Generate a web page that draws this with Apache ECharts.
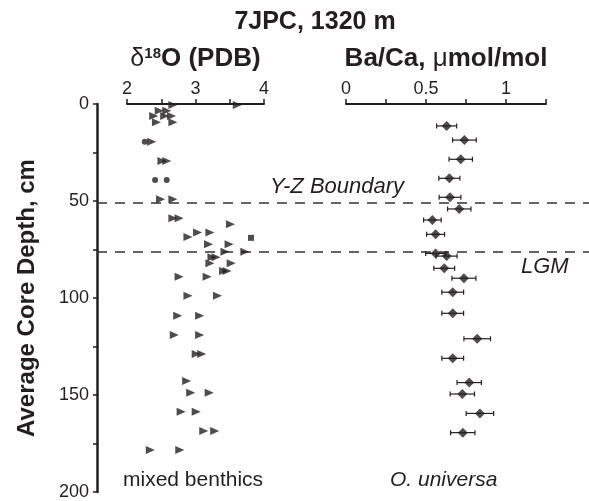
<!DOCTYPE html>
<html><head><meta charset="utf-8">
<script src="https://cdn.jsdelivr.net/npm/echarts@6/dist/echarts.min.js"></script>
<style>html,body{margin:0;padding:0;background:#fff}#c{width:589px;height:501px}</style>
</head><body><div id="c"></div>
<script>
// δ18O (PDB), mixed benthics: [value, depth cm]
const d18oTriangles = [
  [2.67,0.5],[3.61,0.5],
  [2.47,3.5],[2.58,3.5],
  [2.39,6.2],[2.55,6.2],[2.65,6.2],
  [2.43,9.4],[2.67,9.4],
  [2.36,19.4],
  [2.51,29.4],[2.58,29.4],
  [2.49,49.1],[2.67,49.1],
  [2.67,58.9],[2.76,58.9],
  [3.51,62],
  [3.03,66.3],[3.21,66.3],
  [2.89,68.6],
  [3.19,72.3],[3.49,72.3],
  [3.43,76.1],[3.72,76.1],
  [3.24,79],[3.30,79],
  [3.21,82.1],[3.52,82.1],
  [3.41,86.1],[3.46,86.1],
  [2.76,89],[3.17,89],
  [2.89,98.8],[3.32,98.8],
  [2.74,109.1],[3.06,109.1],
  [2.69,119.1],[3.06,119.1],
  [3.01,128.9],[3.09,128.9],
  [2.87,142.8],
  [2.93,148.8],[3.20,148.8],
  [2.79,158.6],[3.01,158.6],
  [3.12,168.6],[3.28,168.6],
  [2.34,178.4],[2.77,178.4]
];
const d18oDots = [[2.26,19.4],[2.41,39.2],[2.58,39.2]];
const d18oSquares = [[3.81,69]];

// Ba/Ca (µmol/mol), O. universa: value, error, depth
const baCaValue = [0.629,0.74,0.717,0.646,0.65,0.708,0.54,0.56,0.56,0.629,0.614,0.737,0.667,0.667,0.82,0.667,0.77,0.727,0.837,0.73];
const baCaError = [0.0625,0.074,0.073,0.066,0.068,0.073,0.055,0.056,0.062,0.065,0.065,0.075,0.068,0.068,0.083,0.068,0.076,0.076,0.086,0.076];
const baCaDepth = [11.3,18.6,28.5,38.3,48.1,54.1,59.8,67.2,77,78.4,84.7,89.8,97,107.9,121,131.1,143.6,149.5,159.5,169.4];

// Boundaries (depth, cm)
const boundaryDepths = [51, 76.3];
const boundaryNames = ['Y-Z Boundary', 'LGM'];

const d18oTicks = [2, 3, 4];
const baCaTicks = [0, 0.5, 1];
const depthTicks = [0, 50, 100, 150, 200];

const FONT = '"Liberation Sans", Arial, sans-serif';
const chart = echarts.init(document.getElementById('c'), null, {renderer: 'canvas'});

const TOP = 104, H = 388;
const baCaPts = baCaValue.map((v, i) => [v, baCaDepth[i]]);
const baCaBars = baCaValue.map((v, i) => [v - baCaError[i], v + baCaError[i], baCaDepth[i]]);

function hiddenY(gi) {
  return {type:'value', gridIndex:gi, min:0, max:200, inverse:true, show:false};
}

chart.setOption({
  animation: false,
  backgroundColor: '#fff',
  textStyle: {fontFamily: FONT},
  title: [{
    text: '7JPC, 1320 m', left: 310, top: 5, textAlign: 'center',
    textStyle: {fontFamily: FONT, fontSize: 25, fontWeight: 'bold', color: '#231f20'}
  }],
  grid: [
    {left: 127, width: 137, top: TOP, height: H},
    {left: 346, width: 200, top: TOP, height: H},
    {left: 97, right: 0, top: TOP, height: H}
  ],
  xAxis: [
    {type:'value', gridIndex:0, position:'top', min:2, max:4, interval:0.5,
     name:'{d|δ}{s|18}{b|O (PDB)}', nameLocation:'middle', nameGap:32,
     nameTextStyle:{rich:{
       d:{fontFamily:FONT, fontSize:25, color:'#231f20'},
       s:{fontFamily:FONT, fontSize:15, fontWeight:'bold', color:'#231f20', verticalAlign:'top', padding:[0,0,10,0]},
       b:{fontFamily:FONT, fontSize:26, fontWeight:'bold', color:'#231f20'}}},
     axisLine:{lineStyle:{color:'#231f20', width:2}},
     axisTick:{length:5, lineStyle:{color:'#231f20', width:1.5}},
     splitLine:{show:false},
     axisLabel:{fontFamily:FONT, fontSize:18, color:'#231f20', margin:6,
       formatter: v => d18oTicks.includes(v) ? String(v) : ''}},
    {type:'value', gridIndex:1, position:'top', min:0, max:1.25, interval:0.25,
     name:'{b|Ba/Ca, }{m|μ}{b|mol/mol}', nameLocation:'middle', nameGap:32,
     nameTextStyle:{rich:{
       m:{fontFamily:FONT, fontSize:26, color:'#231f20'},
       b:{fontFamily:FONT, fontSize:26, fontWeight:'bold', color:'#231f20'}}},
     axisLine:{lineStyle:{color:'#231f20', width:2}},
     axisTick:{length:5, lineStyle:{color:'#231f20', width:1.5}},
     splitLine:{show:false},
     axisLabel:{fontFamily:FONT, fontSize:18, color:'#231f20', margin:6,
       formatter: v => baCaTicks.includes(v) ? String(v) : ''}},
    {type:'value', gridIndex:2, min:0, max:1, show:false}
  ],
  yAxis: [
    hiddenY(0), hiddenY(1),
    {type:'value', gridIndex:2, min:0, max:200, interval:25, inverse:true,
     name:'Average Core Depth, cm', nameLocation:'middle', nameGap:58, nameRotate:90,
     nameTextStyle:{fontFamily:FONT, fontSize:24, fontWeight:'bold', color:'#231f20'},
     axisLine:{lineStyle:{color:'#231f20', width:2.5}},
     axisTick:{length:4, lineStyle:{color:'#231f20', width:1.5}},
     splitLine:{show:false},
     axisLabel:{fontFamily:FONT, fontSize:18, color:'#231f20', margin:8,
       formatter: v => depthTicks.includes(v) ? String(v) : ''}}
  ],
  series: [
    // boundary dashed lines
    ...boundaryDepths.map(d => ({
      type:'line', xAxisIndex:2, yAxisIndex:2, data:[[0,d],[1,d]], symbol:'none', silent:true,
      lineStyle:{color:'#333', width:1.5, type:[10,8]}, z:1
    })),
    {type:'scatter', xAxisIndex:0, yAxisIndex:0, data:d18oTriangles, symbol:'triangle', symbolRotate:-90,
     symbolSize:[8,9], itemStyle:{color:'#231f20'}, z:3},
    {type:'scatter', xAxisIndex:0, yAxisIndex:0, data:d18oDots, symbol:'circle', symbolSize:6,
     itemStyle:{color:'#231f20'}, z:3},
    {type:'scatter', xAxisIndex:0, yAxisIndex:0, data:d18oSquares, symbol:'rect', symbolSize:6,
     itemStyle:{color:'#231f20'}, z:3},
    {type:'custom', xAxisIndex:1, yAxisIndex:1, data:baCaBars, encode:{x:[0,1], y:2}, z:3,
     renderItem:(params, api) => {
       const a = api.coord([api.value(0), api.value(2)]);
       const b = api.coord([api.value(1), api.value(2)]);
       const st = {stroke:'#231f20', lineWidth:1.2};
       return {type:'group', children:[
         {type:'line', shape:{x1:a[0], y1:a[1], x2:b[0], y2:b[1]}, style:st},
         {type:'line', shape:{x1:a[0], y1:a[1]-2.5, x2:a[0], y2:a[1]+2.5}, style:st},
         {type:'line', shape:{x1:b[0], y1:b[1]-2.5, x2:b[0], y2:b[1]+2.5}, style:st}
       ]};
     }},
    {type:'scatter', xAxisIndex:1, yAxisIndex:1, data:baCaPts, symbol:'diamond', symbolSize:[10,10],
     itemStyle:{color:'#231f20'}, z:4}
  ],
  graphic: [
    {type:'text', left:270, top:176, style:{text:boundaryNames[0], font:'italic 22px ' + FONT, fill:'#231f20'}},
    {type:'text', left:521, top:256, style:{text:boundaryNames[1], font:'italic 22px ' + FONT, fill:'#231f20'}},
    {type:'text', left:123, top:470, style:{text:'mixed benthics', font:'21px ' + FONT, fill:'#231f20'}},
    {type:'text', left:390, top:470, style:{text:'O. universa', font:'italic 21px ' + FONT, fill:'#231f20'}}
  ]
});
</script></body></html>
